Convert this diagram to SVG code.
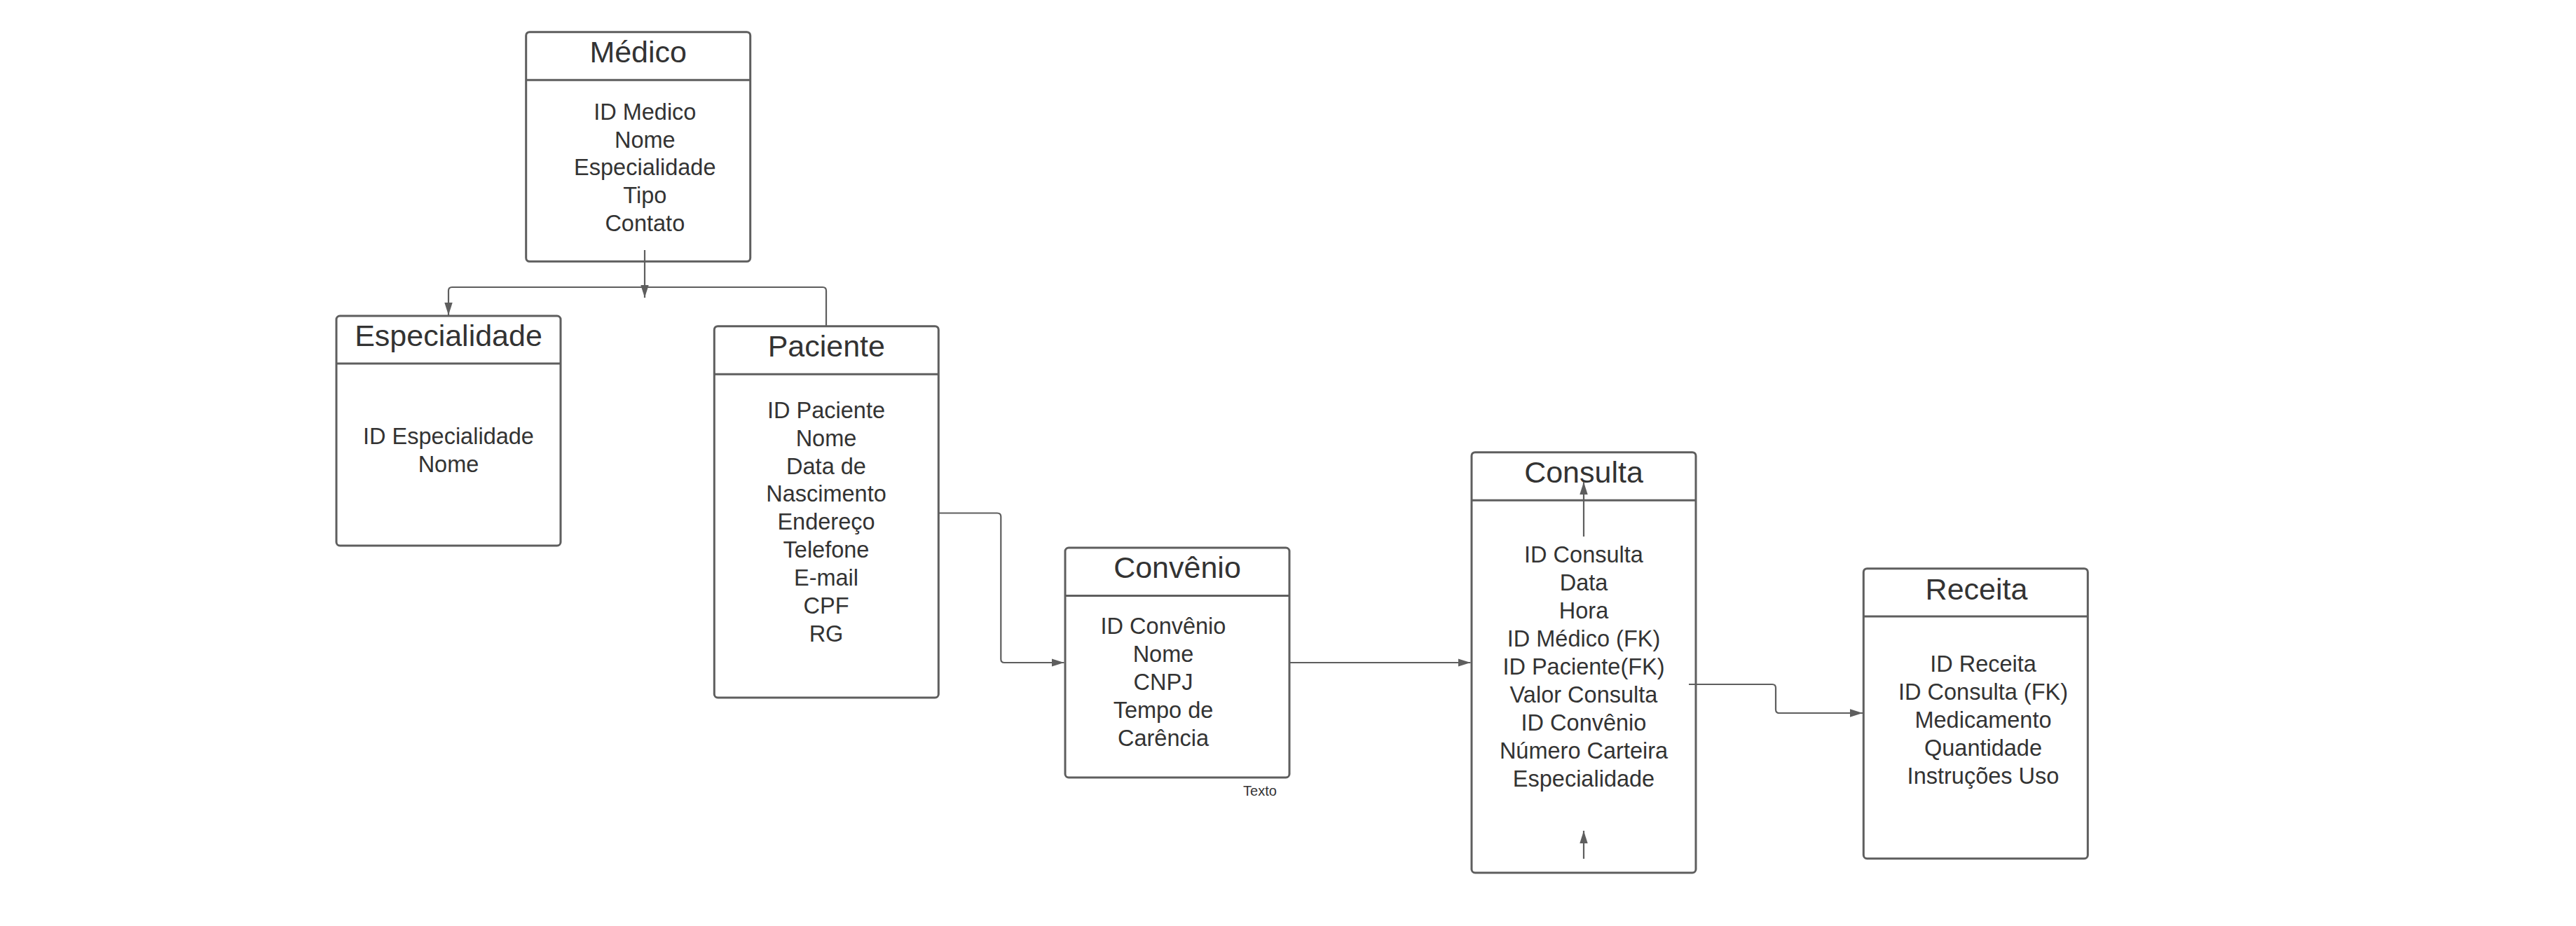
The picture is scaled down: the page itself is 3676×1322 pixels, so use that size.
<svg xmlns="http://www.w3.org/2000/svg" width="3676" height="1322" viewBox="0 0 3676 1322">
<style>
.box{fill:#ffffff;stroke:#5e5e5e;stroke-width:3}
.div{stroke:#5e5e5e;stroke-width:3;fill:none}
.title{font-family:"Liberation Sans",Arial,sans-serif;font-size:43px;fill:#333333;text-anchor:middle}
.body{font-family:"Liberation Sans",Arial,sans-serif;font-size:32.5px;fill:#333333;text-anchor:middle}
.small{font-family:"Liberation Sans",Arial,sans-serif;font-size:20px;fill:#333333;text-anchor:middle}
.conn{fill:none;stroke:#5e5e5e;stroke-width:2.2}
</style>
<defs>
<marker id="arrow" viewBox="0 0 18 12" refX="18" refY="6" markerWidth="18" markerHeight="12" markerUnits="userSpaceOnUse" orient="auto">
<path d="M0,0.3 L18,6 L0,11.7 Z" fill="#5e5e5e"/>
</marker>
</defs>
<rect width="3676" height="1322" fill="#ffffff"/>

<g id="medico">
<rect class="box" x="750.7" y="45.7" width="320" height="327.6" rx="5"/>
<line class="div" x1="750.7" y1="114.3" x2="1070.7" y2="114.3"/>
<text class="title" x="910.7" y="89.3">Médico</text>
<text class="body" x="920.3" y="170.7"><tspan x="920.3">ID Medico</tspan><tspan x="920.3" dy="39.8">Nome</tspan><tspan x="920.3" dy="39.8">Especialidade</tspan><tspan x="920.3" dy="39.8">Tipo</tspan><tspan x="920.3" dy="39.8">Contato</tspan></text>
</g>

<g id="especialidade">
<rect class="box" x="480" y="451" width="320" height="328" rx="5"/>
<line class="div" x1="480" y1="519" x2="800" y2="519"/>
<text class="title" x="640" y="494.3">Especialidade</text>
<text class="body" x="640" y="634.3"><tspan x="640">ID Especialidade</tspan><tspan x="640" dy="39.8">Nome</tspan></text>
</g>

<g id="paciente">
<rect class="box" x="1019.3" y="465.7" width="320" height="530.3" rx="5"/>
<line class="div" x1="1019.3" y1="534.3" x2="1339.3" y2="534.3"/>
<text class="title" x="1179.3" y="509.3">Paciente</text>
<text class="body" x="1179" y="596.7"><tspan x="1179">ID Paciente</tspan><tspan x="1179" dy="39.9">Nome</tspan><tspan x="1179" dy="39.9">Data de</tspan><tspan x="1179" dy="39.9">Nascimento</tspan><tspan x="1179" dy="39.9">Endereço</tspan><tspan x="1179" dy="39.9">Telefone</tspan><tspan x="1179" dy="39.9">E-mail</tspan><tspan x="1179" dy="39.9">CPF</tspan><tspan x="1179" dy="39.9">RG</tspan></text>
</g>

<g id="convenio">
<rect class="box" x="1520" y="782" width="320" height="328" rx="5"/>
<line class="div" x1="1520" y1="850.5" x2="1840" y2="850.5"/>
<text class="title" x="1680" y="825">Convênio</text>
<text class="body" x="1660" y="905"><tspan x="1660">ID Convênio</tspan><tspan x="1660" dy="40">Nome</tspan><tspan x="1660" dy="40">CNPJ</tspan><tspan x="1660" dy="40">Tempo de</tspan><tspan x="1660" dy="40">Carência</tspan></text>
</g>

<g id="texto-label">
<text class="small" x="1798" y="1136">Texto</text>
</g>

<g id="consulta">
<rect class="box" x="2100" y="645.7" width="320" height="600.3" rx="5"/>
<line class="div" x1="2100" y1="714.3" x2="2420" y2="714.3"/>
<text class="title" x="2260" y="689.3">Consulta</text>
<text class="body" x="2260" y="803.3"><tspan x="2260">ID Consulta</tspan><tspan x="2260" dy="39.9">Data</tspan><tspan x="2260" dy="39.9">Hora</tspan><tspan x="2260" dy="39.9">ID Médico (FK)</tspan><tspan x="2260" dy="39.9">ID Paciente(FK)</tspan><tspan x="2260" dy="39.9">Valor Consulta</tspan><tspan x="2260" dy="39.9">ID Convênio</tspan><tspan x="2260" dy="39.9">Número Carteira</tspan><tspan x="2260" dy="39.9">Especialidade</tspan></text>
</g>

<g id="receita">
<rect class="box" x="2659.3" y="811.7" width="320" height="414" rx="5"/>
<line class="div" x1="2659.3" y1="880" x2="2979.3" y2="880"/>
<text class="title" x="2820.5" y="855.7">Receita</text>
<text class="body" x="2830" y="959.3"><tspan x="2830">ID Receita</tspan><tspan x="2830" dy="40">ID Consulta (FK)</tspan><tspan x="2830" dy="40">Medicamento</tspan><tspan x="2830" dy="40">Quantidade</tspan><tspan x="2830" dy="40">Instruções Uso</tspan></text>
</g>

<g id="connectors">
<path class="conn" d="M920,357 V425" marker-end="url(#arrow)"/>
<path class="conn" d="M1179,466 V415 Q1179,410 1174,410 H645 Q640,410 640,415 V450" marker-end="url(#arrow)"/>
<path class="conn" d="M1339.3,732.5 H1423 Q1428.3,732.5 1428.3,737.5 V941 Q1428.3,946 1433.3,946 H1518.5" marker-end="url(#arrow)"/>
<path class="conn" d="M1840,946 H2098.5" marker-end="url(#arrow)"/>
<path class="conn" d="M2410,977 H2529 Q2534,977 2534,982 V1013 Q2534,1018 2539,1018 H2658" marker-end="url(#arrow)"/>
<path class="conn" d="M2260,766 V688" marker-end="url(#arrow)"/>
<path class="conn" d="M2260,1226 V1186" marker-end="url(#arrow)"/>
</g>
</svg>
